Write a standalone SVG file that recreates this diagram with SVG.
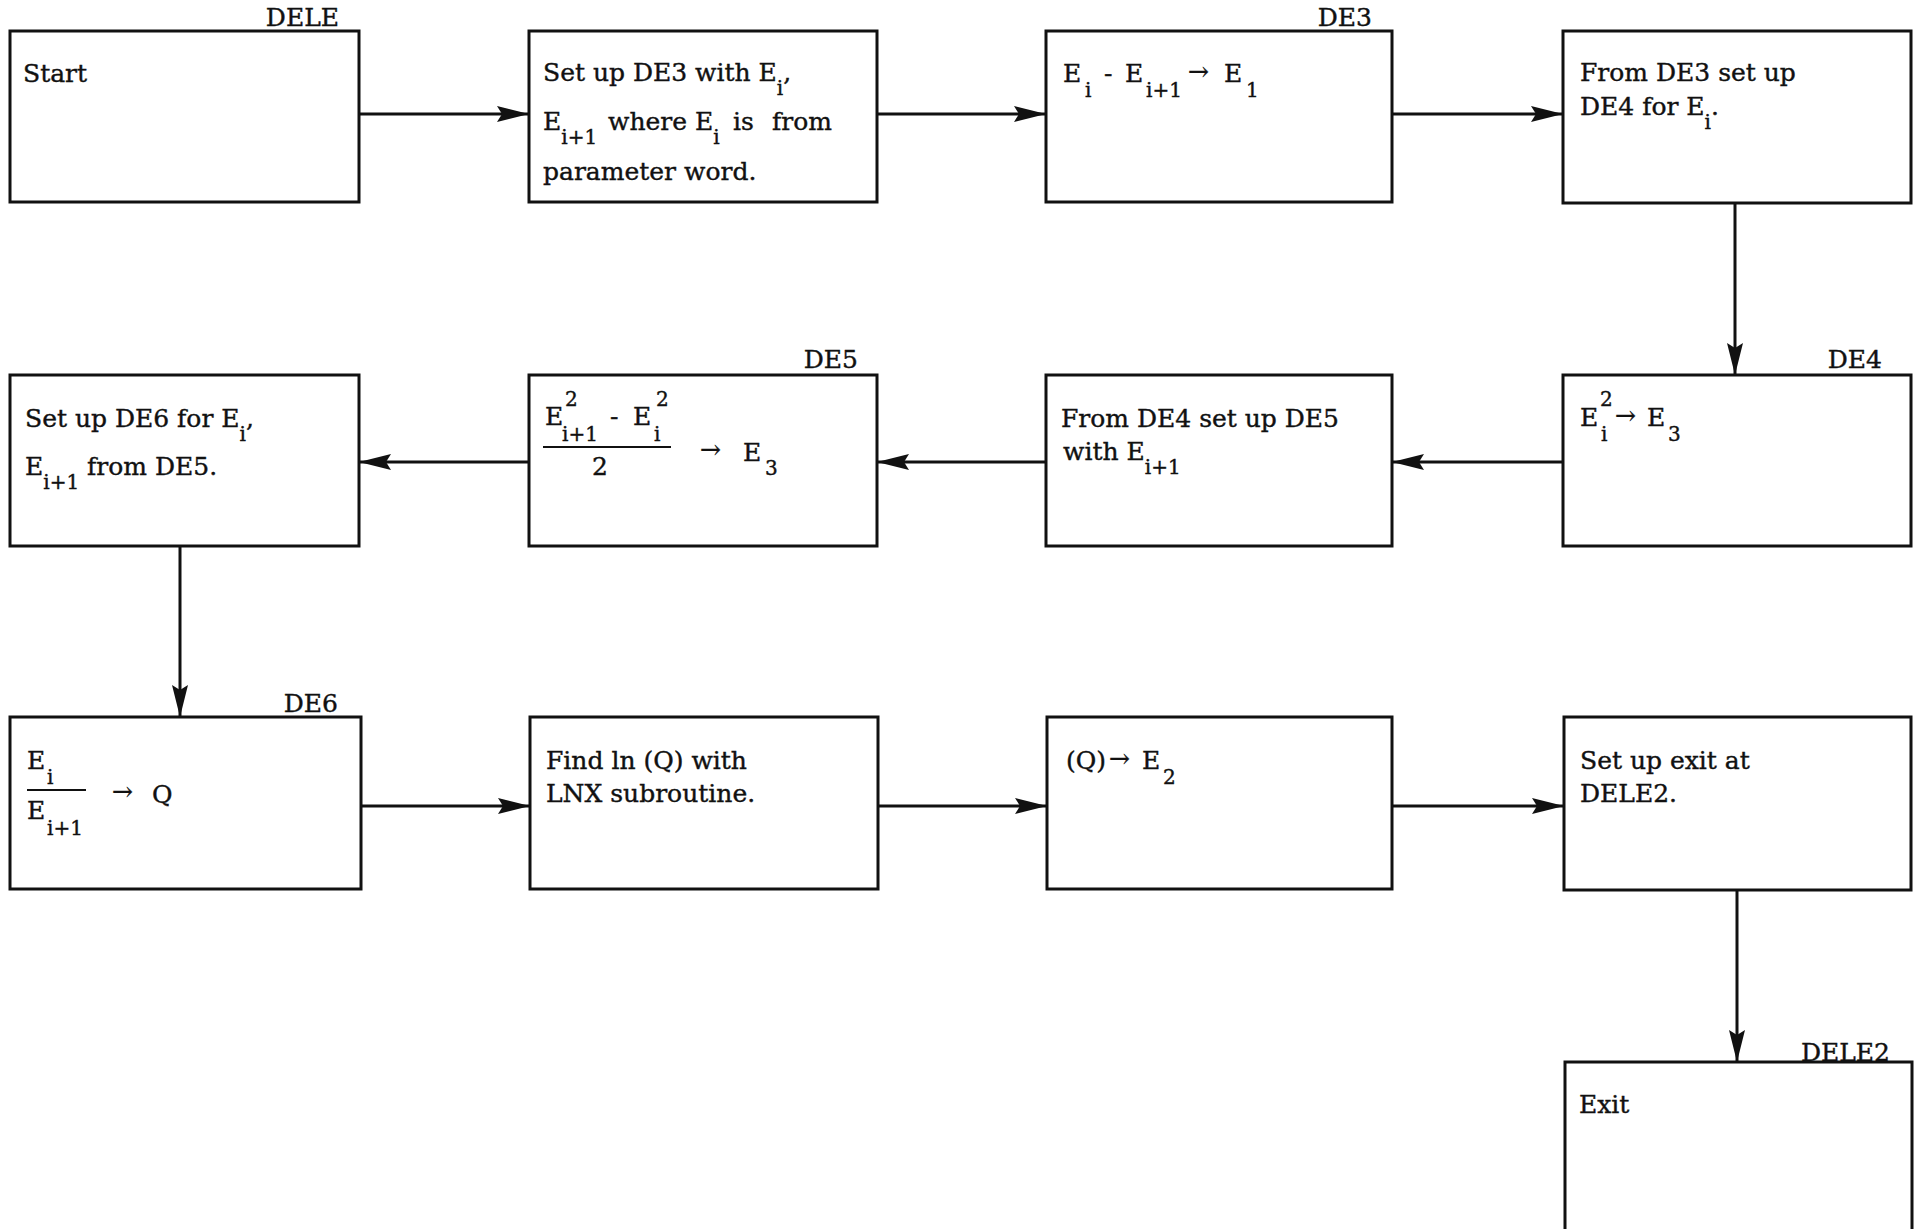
<svg xmlns="http://www.w3.org/2000/svg" width="1921" height="1229" viewBox="0 0 1921 1229">
<style>
.box{fill:#fff;stroke:#111;stroke-width:3}
.t{font-family:"DejaVu Serif","Liberation Serif",serif;font-size:25px;fill:#111;stroke:#111;stroke-width:0.4}
.s{font-family:"DejaVu Serif","Liberation Serif",serif;font-size:20px;fill:#111;stroke:#111;stroke-width:0.4}
.lbl{font-family:"DejaVu Serif","Liberation Serif",serif;font-size:25px;fill:#111;stroke:#111;stroke-width:0.4;text-anchor:end}
.c{stroke:#111;stroke-width:3;fill:none;marker-end:url(#ah)}
.fr{stroke:#111;stroke-width:2}
</style>
<defs>
<marker id="ah" viewBox="0 0 32 16" refX="32" refY="8" markerWidth="32" markerHeight="16" markerUnits="userSpaceOnUse" orient="auto">
<path d="M0,0 L32,8 L0,16 L5,8 Z" fill="#111"/>
</marker>
</defs>
<rect width="1921" height="1229" fill="#fff"/>

<g id="connectors">
<line class="c" x1="359" y1="114" x2="529" y2="114"/>
<line class="c" x1="877" y1="114" x2="1046" y2="114"/>
<line class="c" x1="1392" y1="114" x2="1563" y2="114"/>
<line class="c" x1="1735" y1="203" x2="1735" y2="375"/>
<line class="c" x1="1563" y1="462" x2="1392" y2="462"/>
<line class="c" x1="1046" y1="462" x2="877" y2="462"/>
<line class="c" x1="529" y1="462" x2="359" y2="462"/>
<line class="c" x1="180" y1="546" x2="180" y2="717"/>
<line class="c" x1="361" y1="806" x2="530" y2="806"/>
<line class="c" x1="878" y1="806" x2="1047" y2="806"/>
<line class="c" x1="1392" y1="806" x2="1564" y2="806"/>
<line class="c" x1="1737" y1="890" x2="1737" y2="1062"/>
</g>

<g id="n-start">
<rect class="box" x="10" y="31" width="349" height="171"/>
<text class="lbl" x="339" y="26">DELE</text>
<text class="t" x="23" y="82">Start</text>
</g>

<g id="n-setup-de3">
<rect class="box" x="529" y="31" width="348" height="171"/>
<text class="t" x="543" y="81">Set up DE3 with E<tspan class="s" dy="14">i</tspan><tspan dy="-14">,</tspan></text>
<text class="t" x="543" y="130">E<tspan class="s" dy="14">i+1</tspan><tspan x="608" dy="-14">where E</tspan><tspan class="s" dy="14">i</tspan><tspan x="733" dy="-14">is</tspan><tspan x="772">from</tspan></text>
<text class="t" x="543" y="180">parameter word.</text>
</g>

<g id="n-de3">
<rect class="box" x="1046" y="31" width="346" height="171"/>
<text class="lbl" x="1372" y="26">DE3</text>
<text class="t" x="1063" y="82">E</text>
<text class="s" x="1085" y="97">i</text>
<text class="t" x="1104" y="82">-</text>
<text class="t" x="1125" y="82">E</text>
<text class="s" x="1146" y="97">i+1</text>
<text class="t" x="1188" y="80">→</text>
<text class="t" x="1224" y="82">E</text>
<text class="s" x="1246" y="97">1</text>
</g>

<g id="n-from-de3">
<rect class="box" x="1563" y="31" width="348" height="172"/>
<text class="t" x="1580" y="81">From DE3 set up</text>
<text class="t" x="1580" y="115">DE4 for E<tspan class="s" dy="14">i</tspan><tspan dy="-14">.</tspan></text>
</g>

<g id="n-de4">
<rect class="box" x="1563" y="375" width="348" height="171"/>
<text class="lbl" x="1882" y="368">DE4</text>
<text class="t" x="1580" y="426">E</text>
<text class="s" x="1600" y="406">2</text>
<text class="s" x="1601" y="441">i</text>
<text class="t" x="1615" y="424">→</text>
<text class="t" x="1647" y="426">E</text>
<text class="s" x="1668" y="441">3</text>
</g>

<g id="n-from-de4">
<rect class="box" x="1046" y="375" width="346" height="171"/>
<text class="t" x="1061" y="427">From DE4 set up DE5</text>
<text class="t" x="1063" y="460">with E<tspan class="s" dy="14">i+1</tspan></text>
</g>

<g id="n-de5">
<rect class="box" x="529" y="375" width="348" height="171"/>
<text class="lbl" x="858" y="368">DE5</text>
<text class="t" x="545" y="425">E</text>
<text class="s" x="565" y="406">2</text>
<text class="s" x="562" y="441">i+1</text>
<text class="t" x="610" y="425">-</text>
<text class="t" x="633" y="425">E</text>
<text class="s" x="656" y="406">2</text>
<text class="s" x="654" y="441">i</text>
<line class="fr" x1="543" y1="447" x2="671" y2="447"/>
<text class="t" x="592" y="475">2</text>
<text class="t" x="700" y="458">→</text>
<text class="t" x="743" y="461">E</text>
<text class="s" x="765" y="475">3</text>
</g>

<g id="n-setup-de6">
<rect class="box" x="10" y="375" width="349" height="171"/>
<text class="t" x="25" y="427">Set up DE6 for E<tspan class="s" dy="14">i</tspan><tspan dy="-14">,</tspan></text>
<text class="t" x="25" y="475">E<tspan class="s" dy="14">i+1</tspan><tspan dy="-14"> from DE5.</tspan></text>
</g>

<g id="n-de6">
<rect class="box" x="10" y="717" width="351" height="172"/>
<text class="lbl" x="338" y="712">DE6</text>
<text class="t" x="27" y="769">E</text>
<text class="s" x="47" y="784">i</text>
<line class="fr" x1="27" y1="790" x2="86" y2="790"/>
<text class="t" x="27" y="819">E</text>
<text class="s" x="47" y="835">i+1</text>
<text class="t" x="112" y="800">→</text>
<text class="t" x="152" y="803">Q</text>
</g>

<g id="n-find-ln">
<rect class="box" x="530" y="717" width="348" height="172"/>
<text class="t" x="546" y="769">Find ln (Q) with</text>
<text class="t" x="546" y="802">LNX subroutine.</text>
</g>

<g id="n-q-e2">
<rect class="box" x="1047" y="717" width="345" height="172"/>
<text class="t" x="1066" y="769">(Q)</text>
<text class="t" x="1109" y="767">→</text>
<text class="t" x="1142" y="769">E</text>
<text class="s" x="1163" y="784">2</text>
</g>

<g id="n-setup-exit">
<rect class="box" x="1564" y="717" width="347" height="173"/>
<text class="t" x="1580" y="769">Set up exit at</text>
<text class="t" x="1580" y="802">DELE2.</text>
</g>

<g id="n-exit">
<rect class="box" x="1565" y="1062" width="347" height="200"/>
<text class="lbl" x="1890" y="1061">DELE2</text>
<text class="t" x="1579" y="1113">Exit</text>
</g>
</svg>
